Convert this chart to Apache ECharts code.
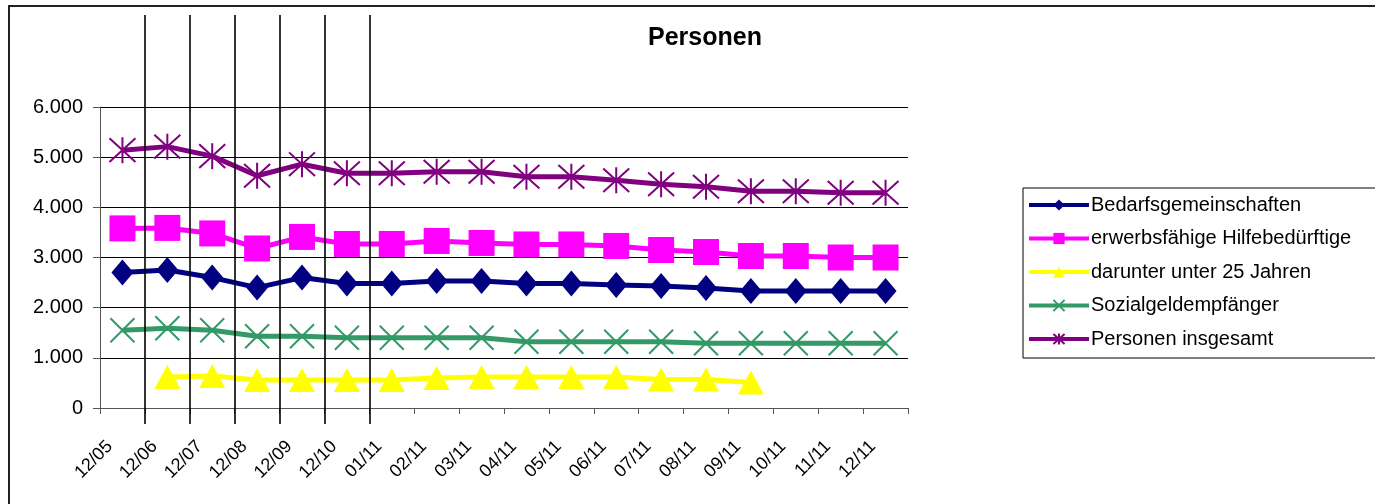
<!DOCTYPE html>
<html>
<head>
<meta charset="utf-8">
<script src="https://cdn.jsdelivr.net/npm/echarts@6/dist/echarts.min.js"></script>
<style>
html,body{margin:0;padding:0;background:#fff;}
#frame{position:absolute;left:8px;top:5px;width:1380px;height:510px;border-left:2px solid #222;border-top:2px solid #222;}
#chart{position:absolute;left:0;top:0;width:1375px;height:504px;}
</style>
</head>
<body>
<div id="frame"></div>
<div id="chart"></div>
<script>
var categories = ['12/05','12/06','12/07','12/08','12/09','12/10','01/11','02/11','03/11','04/11','05/11','06/11','07/11','08/11','09/11','10/11','11/11','12/11'];
var bedarfsgemeinschaften = [2700,2750,2600,2400,2600,2480,2480,2530,2530,2480,2480,2450,2430,2390,2330,2330,2330,2330];
var erwerbsfaehige = [3580,3590,3480,3180,3410,3270,3270,3330,3290,3260,3260,3230,3150,3110,3030,3030,3000,3000];
var unter25 = [null,620,640,560,560,560,560,600,620,620,620,620,570,570,510,null,null,null];
var sozialgeld = [1550,1590,1550,1430,1430,1400,1400,1400,1400,1320,1320,1320,1320,1290,1290,1290,1290,1290];
var insgesamt = [5140,5210,5020,4630,4860,4680,4680,4710,4710,4610,4610,4540,4460,4410,4320,4320,4290,4290];
var yTicks = [0,1000,2000,3000,4000,5000,6000];
var dividerPositions = [1,2,3,4,5,6];

var chart = echarts.init(document.getElementById('chart'), null, {renderer:'canvas'});
var font = 'Liberation Sans, Arial, sans-serif';
function fmt(v){ return v === 0 ? '0' : String(v).replace(/\B(?=(\d{3})+(?!\d))/g, '.'); }
var starPath = 'path://M0,0L20,20M20,0L0,20M10,-1L10,21';
var crossPath = 'path://M0,0L20,20M20,0L0,20';

function mk(name, data, color, symbol, size, hollow){
  return {
    name: name, type: 'line', data: data, xAxisIndex:0, yAxisIndex:0,
    symbol: symbol, symbolSize: size, showSymbol: true,
    lineStyle: {color: color, width: 5},
    itemStyle: hollow ? {color: 'rgba(0,0,0,0)', borderColor: color, borderWidth: 2} : {color: color, borderWidth: 0},
    emphasis: {disabled: true}, animation: false, connectNulls: false, z: 3
  };
}

var option = {
  animation: false,
  title: {text: 'Personen', left: 700, top: 21, textAlign: 'center',
    textStyle: {fontFamily: font, fontSize: 25, fontWeight: 'bold', color: '#000'}},
  legend: {
    orient: 'vertical', left: 1023, top: 188, itemGap: 11.5,
    itemWidth: 60, itemHeight: 14,
    padding: [6, 30, 8, 4],
    borderColor: '#000', borderWidth: 1,
    lineStyle: {width: 4},
    textStyle: {fontFamily: font, fontSize: 20, color: '#000', padding:[0,0,0,-3], lineHeight: 22},
    data: ['Bedarfsgemeinschaften','erwerbsfähige Hilfebedürftige','darunter unter 25 Jahren','Sozialgeldempfänger','Personen insgesamt']
  },
  grid: [
    {left: 100, right: 467, top: 107, bottom: 96, show: false},
    {left: 100, right: 467, top: 15, bottom: 80, show: false}
  ],
  xAxis: [
    {type: 'category', gridIndex: 0, data: categories, boundaryGap: true,
     axisLine: {show: true, lineStyle: {color: '#555', width: 1}},
     axisTick: {show: true, alignWithLabel: false, length: 6, lineStyle: {color: '#555'}},
     axisLabel: {rotate: 45, margin: 23, padding: [0, 18, 0, 0], fontFamily: font, fontSize: 18, color: '#000', interval: 0},
     splitLine: {show: false}},
    {type: 'value', gridIndex: 1, min: 0, max: categories.length, show: false}
  ],
  yAxis: [
    {type: 'value', gridIndex: 0, min: yTicks[0], max: yTicks[yTicks.length-1], interval: 1000,
     axisLine: {show: true, lineStyle: {color: '#555', width: 1}},
     axisTick: {show: true, length: 7, lineStyle: {color: '#555'}},
     axisLabel: {formatter: fmt, margin: 17, fontFamily: font, fontSize: 20, color: '#000'},
     splitLine: {show: true, lineStyle: {color: '#000', width: 1}}},
    {type: 'value', gridIndex: 1, min: 0, max: 1, show: false}
  ],
  series: [
    mk('Bedarfsgemeinschaften', bedarfsgemeinschaften, '#000080', 'diamond', [22,26]),
    mk('erwerbsfähige Hilfebedürftige', erwerbsfaehige, '#ff00ff', 'rect', 26),
    mk('darunter unter 25 Jahren', unter25, '#ffff00', 'triangle', [26,24]),
    mk('Sozialgeldempfänger', sozialgeld, '#339966', crossPath, 24, true),
    mk('Personen insgesamt', insgesamt, '#800080', starPath, 26, true),
    {type: 'line', xAxisIndex: 1, yAxisIndex: 1, data: [], silent: true, z: 1,
     markLine: {silent: true, symbol: ['none','none'], label: {show: false},
       lineStyle: {color: '#000', width: 1.6, type: 'solid'},
       data: dividerPositions.map(function(p){ return {xAxis: p}; })}}
  ]
};
chart.setOption(option);
</script>
</body>
</html>
